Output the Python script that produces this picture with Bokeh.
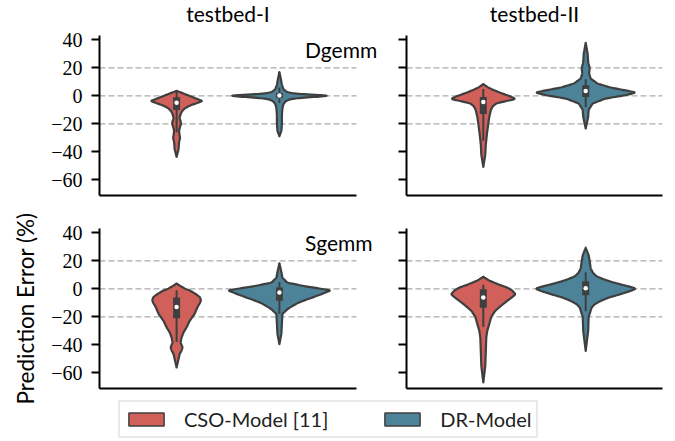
import numpy as np
from bokeh.plotting import figure
from bokeh.layouts import column, row
from bokeh.models import (Range1d, FixedTicker, CustomJSTickFormatter, Label,
                          Legend, LegendItem, ColumnDataSource)
from bokeh.embed import file_html
from bokeh.resources import INLINE

# ---------------------------------------------------------------- data
testbeds = ["testbed-I", "testbed-II"]
kernels = ["Dgemm", "Sgemm"]
models = ["CSO-Model [11]", "DR-Model"]
model_offsets = [-0.2, 0.2]
y_ticks = [-60, -40, -20, 0, 20, 40]
ref_levels = [-20, 0, 20]
y_title = "Prediction Error (%)"

# Violin profiles: prediction-error level (%) and estimated density (common units)
cso_t1_dgemm_lvl = [3.6, 2, 0, -2, -3.6, -5, -7, -9, -11, -13, -16, -18, -20, -22, -25, -28, -30, -33, -38, -43.6]
cso_t1_dgemm_den = [0, 6, 13, 20, 26, 21, 13, 8, 5.5, 4, 3, 4, 4.5, 3.5, 2.5, 3, 3.5, 2.5, 2, 0]
dr_t1_dgemm_lvl = [17, 12, 8, 5, 3, 2, 1, 0.3, -0.5, -1.5, -2.5, -4, -6, -9, -14, -20, -25, -28.8]
dr_t1_dgemm_den = [0, 1.5, 2.5, 4, 7, 12, 28, 51, 40, 20, 10, 6, 4, 3, 2.5, 2.5, 2, 0]

cso_t2_dgemm_lvl = [8.4, 6, 4, 2, 0, -1.5, -2.4, -3.5, -5.4, -7.5, -10, -15, -20, -27, -35, -42, -50.7]
cso_t2_dgemm_den = [0, 5, 11, 18, 26, 31, 32, 24, 13, 9.5, 7.7, 6, 5, 3.7, 2.5, 2, 0]
dr_t2_dgemm_lvl = [38, 30, 24, 20, 16, 12.4, 8.8, 6, 4, 2.4, 0.5, -1.9, -5.4, -10, -15, -23.3]
dr_t2_dgemm_den = [0, 2, 2.5, 4, 3.5, 5, 12, 25, 40, 51, 40, 20, 7, 3, 2.5, 0]

cso_t1_sgemm_lvl = [3.8, 2, 0, -1.4, -4, -6, -8.1, -10, -13, -18, -23, -27.6, -31, -34.8, -38.3, -40, -41.9, -44, -46.7, -50, -56.2]
cso_t1_sgemm_den = [0, 4, 9, 14, 20, 23.5, 24.5, 23.5, 21, 18, 13, 10, 7, 5, 4, 5, 6, 5, 3, 2, 0]
dr_t1_sgemm_lvl = [18.3, 12, 8, 4.5, 2, -1, -3, -6.2, -9, -11, -14.5, -18, -25, -32, -39.5]
dr_t1_sgemm_den = [0, 2, 3, 8, 25, 51.7, 45, 33, 22, 16, 8, 3, 2.5, 2, 0]

cso_t2_sgemm_lvl = [8.6, 6, 3.3, 1, -1, -3.8, -6, -8.6, -12, -15.7, -20, -25.2, -30, -34.8, -45, -55, -66.9]
cso_t2_sgemm_den = [0, 6, 15, 24, 29, 32.5, 29, 24, 18, 12, 8, 6, 4, 3, 2.5, 2, 0]
dr_t2_sgemm_lvl = [29.5, 24, 20, 15, 11.7, 9, 6.9, 5, 3.3, 1.5, 0.2, -1.5, -3.8, -6, -8.6, -11, -13.3, -20, -30, -44.3]
dr_t2_sgemm_den = [0, 3, 4, 5, 7, 11, 18, 26, 35, 45, 51, 45, 35, 24, 15, 9, 6, 3, 2.5, 0]

# Box statistics, panel order: (Dgemm, I), (Dgemm, II), (Sgemm, I), (Sgemm, II)
cso_median = [-4.8, -4.3, -12.9, -6.2]
cso_q1 = [-10, -13, -21, -13.5]
cso_q3 = [-1, -0.7, -6.2, -0.3]
cso_whisk_lo = [-26, -32, -38, -27]
cso_whisk_hi = [3, 5, -1, 3]
dr_median = [0.3, 3.6, -2.6, 0.5]
dr_q1 = [-1.5, -0.7, -8.5, -4.5]
dr_q3 = [2, 7.6, 1, 5.5]
dr_whisk_lo = [-5, -8, -18, -16]
dr_whisk_hi = [6, 12, 5, 12]

# ---------------------------------------------------------------- style
RED = "#d1605a"
BLUE = "#4d8398"
EDGE = "#3f3f3f"
SANS = "Lato, sans-serif"
SERIF = "'Liberation Serif', serif"
HALF_WIDTH = 0.2
X_LO, X_HI = -0.5, 0.5
Y_LO, Y_HI = -71.2, 43.2
FRAME_W = 257          # px spanned by the x extent of a panel
LABEL_W = 40           # strip holding the shared y title
TITLE_H = 27           # strip holding the column titles
PAGE_W, PAGE_H = 675, 441
LEFT_W = 380 - LABEL_W
RIGHT_W = PAGE_W - 380

profiles = [
    [(cso_t1_dgemm_lvl, cso_t1_dgemm_den), (dr_t1_dgemm_lvl, dr_t1_dgemm_den)],
    [(cso_t2_dgemm_lvl, cso_t2_dgemm_den), (dr_t2_dgemm_lvl, dr_t2_dgemm_den)],
    [(cso_t1_sgemm_lvl, cso_t1_sgemm_den), (dr_t1_sgemm_lvl, dr_t1_sgemm_den)],
    [(cso_t2_sgemm_lvl, cso_t2_sgemm_den), (dr_t2_sgemm_lvl, dr_t2_sgemm_den)],
]
DEN_MAX = max(max(d) for pair in profiles for (_, d) in pair)
box_stats = [
    (cso_median, cso_q1, cso_q3, cso_whisk_lo, cso_whisk_hi),
    (dr_median, dr_q1, dr_q3, dr_whisk_lo, dr_whisk_hi),
]


def violin_outline(lvl, den, center):
    lvl = np.asarray(lvl, float)
    den = np.asarray(den, float)
    order = np.argsort(lvl)
    grid = np.linspace(lvl.min(), lvl.max(), 300)
    hw = np.interp(grid, lvl[order], den[order])
    k = np.ones(5) / 5
    hw = np.convolve(np.pad(hw, 2, mode="edge"), k, mode="valid")
    hw = hw / DEN_MAX * HALF_WIDTH
    xs = np.concatenate([center - hw, (center + hw)[::-1]])
    ys = np.concatenate([grid, grid[::-1]])
    return xs, ys


def blank_strip(w, h):
    f = figure(width=w, height=h, output_backend="svg", toolbar_location=None,
               x_range=Range1d(0, w), y_range=Range1d(0, h), min_border=0)
    f.outline_line_color = None
    f.axis.visible = False
    f.grid.visible = False
    return f


minus_fmt = CustomJSTickFormatter(code="return tick < 0 ? '\u2212' + Math.abs(tick) : String(tick);")
blank_fmt = CustomJSTickFormatter(code="return '';")


def make_panel(idx):
    r, c = divmod(idx, 2)
    left = c == 0
    top = r == 0
    width = LEFT_W if left else RIGHT_W
    height = 211 - TITLE_H if top else 181
    # left panels keep extra room on the right so the kernel label can overhang
    extra = 24 if left else 0
    x_hi = X_HI + extra / FRAME_W
    p = figure(width=width, height=height, output_backend="svg", toolbar_location=None,
               x_range=Range1d(X_LO, x_hi), y_range=Range1d(Y_LO, Y_HI),
               min_border_left=99 - LABEL_W if left else 26,
               min_border_right=0 if left else 13,
               min_border_top=35 - TITLE_H if top else 17,
               min_border_bottom=16 if top else 4)
    p.outline_line_color = None
    p.xgrid.visible = False
    p.ygrid.visible = False
    p.background_fill_color = "white"
    p.border_fill_color = "white"

    # x axis: plain spine only
    xa = p.xaxis[0]
    xa.ticker = FixedTicker(ticks=[])
    xa.bounds = (X_LO, X_HI)
    xa.axis_line_color = "black"
    xa.axis_line_width = 2
    xa.major_tick_out = 0
    xa.major_tick_in = 0
    xa.minor_tick_out = 0
    xa.major_label_standoff = 0

    ya = p.yaxis[0]
    ya.ticker = FixedTicker(ticks=y_ticks)
    ya.formatter = minus_fmt if left else blank_fmt
    ya.axis_line_color = "black"
    ya.axis_line_width = 2
    ya.major_tick_line_color = "black"
    ya.major_tick_line_width = 2
    ya.major_tick_out = 8
    ya.major_tick_in = 0
    ya.minor_tick_line_color = None
    ya.major_label_standoff = 9
    ya.major_label_text_font = SERIF
    ya.major_label_text_font_size = "20px"
    ya.major_label_text_color = "black"

    # dashed reference levels across the panel
    n = len(ref_levels)
    p.segment(x0=[X_LO] * n, x1=[X_HI] * n, y0=ref_levels, y1=ref_levels,
              line_color="#ababab", line_width=1.3, line_dash="6 3")

    xs_all, ys_all = [], []
    for m, (lvl, den) in enumerate(profiles[idx]):
        xs, ys = violin_outline(lvl, den, model_offsets[m])
        xs_all.append(xs)
        ys_all.append(ys)
    src = ColumnDataSource(dict(xs=xs_all, ys=ys_all, color=[RED, BLUE]))
    p.patches("xs", "ys", source=src, fill_color="color", line_color=EDGE,
              line_width=2.2, line_join="round")

    for m in range(2):
        med, q1, q3, lo, hi = (s[idx] for s in box_stats[m])
        x0 = model_offsets[m]
        p.segment(x0=[x0], y0=[lo], x1=[x0], y1=[hi], line_color=EDGE, line_width=2)
        p.segment(x0=[x0], y0=[q1], x1=[x0], y1=[q3], line_color=EDGE, line_width=7)
        p.scatter(x=[x0], y=[med], size=4.5, fill_color="white", line_color=None)

    if left:
        p.add_layout(Label(x=0.3, y=33.5, text=kernels[r], text_align="left",
                           text_baseline="middle", text_font=SANS,
                           text_font_size="21px", text_color="black"))
    return p


panels = [make_panel(i) for i in range(4)]

# column titles, centred over each panel's x extent
ts = blank_strip(PAGE_W - LABEL_W, TITLE_H)
title_centres = [99 - LABEL_W + FRAME_W / 2, LEFT_W + 26 + 256 / 2]
for name, cx in zip(testbeds, title_centres):
    ts.add_layout(Label(x=cx, y=TITLE_H - 13, text=name, text_align="center",
                        text_baseline="middle", text_font=SANS,
                        text_font_size="21px", text_color="black"))

# strip on the left carrying the shared y title, centred on the lower panels
yl = blank_strip(LABEL_W, PAGE_H)
yl.add_layout(Label(x=25, y=PAGE_H - 308, text=y_title, angle=np.pi / 2,
                    text_align="center", text_baseline="middle", text_font=SANS,
                    text_font_size="22.5px", text_color="black"))

# legend strip
lf = blank_strip(PAGE_W - LABEL_W, 49)
leg_src = ColumnDataSource(dict(xs=[[], []], ys=[[], []], color=[RED, BLUE]))
r_leg = lf.patches("xs", "ys", source=leg_src, fill_color="color", line_color=EDGE, line_width=1.5)
legend = Legend(items=[LegendItem(label=models[0], renderers=[r_leg], index=0),
                       LegendItem(label=models[1], renderers=[r_leg], index=1)],
                orientation="horizontal", location=(118 - LABEL_W, 3),
                glyph_width=44, glyph_height=16, label_standoff=16, spacing=52,
                padding=4, margin=0, border_line_color="#d4d4d4", border_line_width=2,
                background_fill_color="white", label_text_font=SANS,
                label_text_font_size="20px", label_text_color="#222222",
                label_height=26)
lf.add_layout(legend)

layout = row(yl, column(ts, row(panels[0], panels[1]), row(panels[2], panels[3]), lf))

with open("out.html", "w") as f:
    f.write(file_html(layout, INLINE))
